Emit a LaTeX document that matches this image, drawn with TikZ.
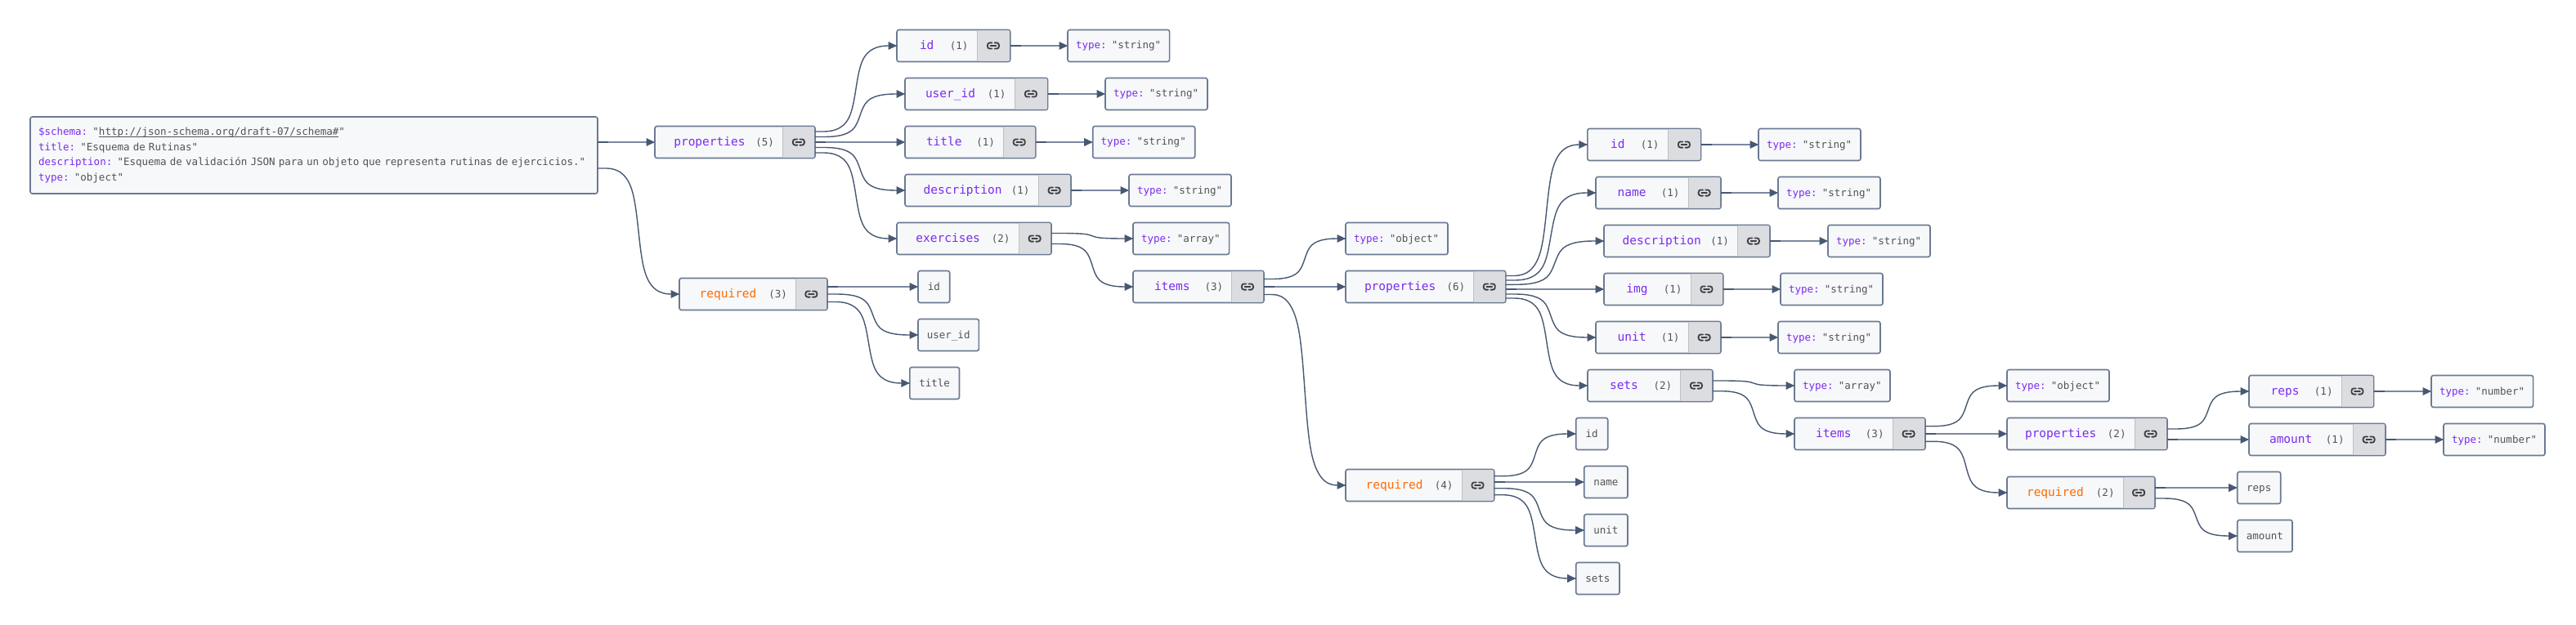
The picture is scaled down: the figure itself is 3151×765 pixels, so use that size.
\documentclass[tikz,border=0pt]{standalone}
\usepackage{fontspec}
\usetikzlibrary{calc}
\newfontfamily\jmono{DejaVu Sans Mono}
\definecolor{keyc}{HTML}{7C2BEF}
\definecolor{reqc}{HTML}{FF6B00}
\definecolor{valc}{HTML}{535353}
\definecolor{fillc}{HTML}{F6F8FA}
\definecolor{borderc}{HTML}{6B7A92}
\definecolor{edgec}{HTML}{475872}
\definecolor{edgelt}{HTML}{7A899F}
\definecolor{btnc}{HTML}{DCDDE0}
\definecolor{iconc}{HTML}{3F3F46}
\tikzset{
  boxst/.style={draw=borderc,fill=fillc,line width=1.6pt,rounded corners=2.5pt,inner sep=0pt,outer sep=0pt,anchor=west,minimum height=39pt},
  btnst/.style={fill=btnc,inner sep=0pt,outer sep=0pt,anchor=east,rounded corners=1pt,minimum height=37.4pt},
  divst/.style={draw=black!25,line width=1pt},
  keyst/.style={font=\jmono\fontsize{14.5}{16}\selectfont,inner sep=0pt,outer sep=0pt,anchor=base west},
  countst/.style={font=\jmono\fontsize{12.5}{14}\selectfont,text=valc,inner sep=0pt,outer sep=0pt,anchor=base east},
  leaftext/.style={font=\jmono\fontsize{12.5}{14}\selectfont,text=valc,text height=10pt,text depth=2pt},
  curvest/.style={draw=edgec,line width=1.4pt},
  linest/.style={draw=edgelt,line width=2pt},
  stubst/.style={draw=edgec,line width=2pt},
  tipst/.style={fill=edgec,draw=none},
  iconst/.style={draw=iconc,line width=1.8pt,line cap=round},
  pics/linkicon/.style={code={
    \draw[iconst,rounded corners=2.8pt] (-1.6,-3.6) -- (-7,-3.6) -- (-7,3.6) -- (-1.6,3.6);
    \draw[iconst,rounded corners=2.8pt] (1.6,-3.6) -- (7,-3.6) -- (7,3.6) -- (1.6,3.6);
    \draw[iconst] (-3.4,0) -- (3.4,0);
  }}
}
% name, x1, x2, divider x, centre y, key x, key, count, key colour
\newcommand\kbox[9]{%
  \pgfmathsetmacro\wa{#3-#2}\pgfmathsetmacro\wb{#3-#4-.8}%
  \node[boxst,minimum width=\wa pt] (#1) at (#2,#5) {};
  \node[btnst,minimum width=\wb pt] (#1-btn) at ($(#1.east)+(-.8,0)$) {};
  \draw[divst] (#1-btn.north west) -- (#1-btn.south west);
  \pic at (#1-btn.center) {linkicon};
  \node[keyst,text=#9] (#1-key) at (#6,{#5+4.3}) {#7};
  \node[countst] (#1-n) at ({#4-10.5},{#5+4.3}) {(#8)};
}
% name, x1, x2, centre y, value
\newcommand\tbox[5]{%
  \pgfmathsetmacro\wa{#3-#2}\pgfmathsetmacro\wb{#3-#2-20}%
  \node[boxst,leaftext,minimum width=\wa pt,text width=\wb pt,align=left] (#1) at (#2,#4) {\mbox{\textcolor{keyc}{type:} #5}};
}
% name, x1, x2, centre y, text
\newcommand\lbox[5]{%
  \pgfmathsetmacro\wa{#3-#2}%
  \node[boxst,leaftext,minimum width=\wa pt] (#1) at (#2,#4) {#5};
}
\newcommand\tipat[1]{\fill[tipst] (#1.west) -- ++(-10.5,-5) -- ++(0,10) -- cycle;}
% curved connector: source, offset from source centre, target
\newcommand\conn[3]{%
  \draw[curvest] let \p1=($(#1.east)+(0,#2)$), \p2=(#3.west) in
    (\x1,\y1) -- ({\x1+(\x2-\x1)/12},\y1)
    .. controls ({\x1+(\x2-\x1)/6},\y1) and ({\x1+(\x2-\x1)/3},\y1) ..
    ({\x1+(\x2-\x1)/12*5},{\y1+(\y2-\y1)/6})
    .. controls ({\x1+(\x2-\x1)/2},{\y1+(\y2-\y1)/3}) and ({\x1+(\x2-\x1)/2},{\y1+(\y2-\y1)/3*2}) ..
    ({\x1+(\x2-\x1)/12*7},{\y1+(\y2-\y1)/6*5})
    .. controls ({\x1+(\x2-\x1)/3*2},\y2) and ({\x1+(\x2-\x1)/6*5},\y2) ..
    ({\x1+(\x2-\x1)/12*11},\y2) -- (\x2,\y2);
  \tipat{#3}
}
% straight connector
\newcommand\sconn[3]{%
  \draw[linest] ($(#1.east)+(0,#2)$) -- (#3.west);
  \draw[stubst] ($(#1.east)+(0,#2)$) -- ($(#1.east)+(13,#2)$);
  \tipat{#3}
}
\newlength\ulen
\newcommand\urlline[1]{\settowidth\ulen{#1}\rlap{\rule[-2.2pt]{\ulen}{.9pt}}#1}
\begin{document}
\begin{tikzpicture}[x=1pt,y=-1pt]
\useasboundingbox (0,0) rectangle (3151,765);
% root
\node[boxst,minimum width=694pt,minimum height=94pt,text width=674pt,align=left,
  font=\jmono\fontsize{12.5}{18.6}\selectfont,text=valc] (root) at (37,190)
 {\textcolor{keyc}{\$schema:} "\urlline{http://json-schema.org/draft-07/schema\#}"\\
  \textcolor{keyc}{title:} "Esquema de Rutinas"\\
  \textcolor{keyc}{description:} "Esquema de validación JSON para un objeto que representa rutinas de ejercicios."\\
  \textcolor{keyc}{type:} "object"};
% first level
\kbox{props}{801}{997}{957.5}{174}{824.3}{properties}{5}{keyc}
\kbox{req}{831}{1012}{973.5}{360}{855.6}{required}{3}{reqc}
\kbox{pid}{1097}{1235.7}{1195}{56}{1125}{id}{1}{keyc}
\tbox{tid}{1306}{1430.6}{56}{"string"}
\kbox{puser}{1107}{1281.6}{1241}{115}{1132}{user\_id}{1}{keyc}
\tbox{tuser}{1352}{1477}{115}{"string"}
\kbox{ptitle}{1107}{1266.8}{1227.5}{174}{1133}{title}{1}{keyc}
\tbox{ttitle}{1336.7}{1461.7}{174}{"string"}
\kbox{pdesc}{1107}{1310}{1270}{233}{1129.6}{description}{1}{keyc}
\tbox{tdesc}{1381}{1506}{233}{"string"}
\kbox{pex}{1097}{1286}{1246}{292}{1120.4}{exercises}{2}{keyc}
\tbox{tex}{1386}{1503.6}{292}{"array"}
\kbox{items}{1386}{1546}{1506.6}{351}{1412}{items}{3}{keyc}
\lbox{rid}{1123}{1161.7}{351}{id}
\lbox{ruser}{1123}{1197.4}{410}{user\_id}
\lbox{rtitle}{1112.8}{1173.5}{469}{title}
% exercise items
\tbox{tobj}{1646}{1771}{292}{"object"}
\kbox{iprops}{1646}{1841.8}{1802.6}{351}{1669}{properties}{6}{keyc}
\kbox{ireq}{1646}{1827.7}{1788}{594}{1670.7}{required}{4}{reqc}
\kbox{eid}{1941.8}{2080.6}{2040}{177}{1970}{id}{1}{keyc}
\tbox{teid}{2151}{2276}{177}{"string"}
\kbox{ename}{1952}{2105}{2065}{236}{1978.6}{name}{1}{keyc}
\tbox{tename}{2175}{2300}{236}{"string"}
\kbox{edesc}{1962}{2165}{2125.5}{295}{1984.7}{description}{1}{keyc}
\tbox{tedesc}{2236}{2361}{295}{"string"}
\kbox{eimg}{1962}{2107.7}{2068}{354}{1989.3}{img}{1}{keyc}
\tbox{teimg}{2178}{2303}{354}{"string"}
\kbox{eunit}{1952}{2105}{2065}{413}{1978.6}{unit}{1}{keyc}
\tbox{teunit}{2175}{2300}{413}{"string"}
\kbox{esets}{1942}{2095}{2055.6}{472}{1969}{sets}{2}{keyc}
\tbox{tesets}{2195}{2312}{472}{"array"}
\kbox{sitems}{2195}{2355}{2315}{531}{2221}{items}{3}{keyc}
\lbox{qid}{1927.7}{1966.7}{531}{id}
\lbox{qname}{1937.7}{1991}{590}{name}
\lbox{qunit}{1937.7}{1991}{649}{unit}
\lbox{qsets}{1927.7}{1981}{708}{sets}
% set items
\tbox{sobj}{2455}{2580}{472}{"object"}
\kbox{sprops}{2455}{2651}{2611}{531}{2477}{properties}{2}{keyc}
\kbox{sreq}{2455}{2636}{2597}{603}{2479}{required}{2}{reqc}
\kbox{sreps}{2751}{2903.6}{2864}{479}{2777.6}{reps}{1}{keyc}
\tbox{tsreps}{2974}{3098.6}{479}{"number"}
\kbox{samount}{2751}{2918}{2878}{538}{2776}{amount}{1}{keyc}
\tbox{tsamount}{2989}{3113}{538}{"number"}
\lbox{xreps}{2736.7}{2789.7}{597}{reps}
\lbox{xamount}{2736.7}{2804}{656}{amount}
% connectors
\sconn{root}{-16}{props}
\conn{root}{16}{req}
\conn{props}{-13}{pid}
\conn{props}{-6.5}{puser}
\sconn{props}{0}{ptitle}
\conn{props}{6.5}{pdesc}
\conn{props}{13}{pex}
\sconn{pid}{0}{tid}
\sconn{puser}{0}{tuser}
\sconn{ptitle}{0}{ttitle}
\sconn{pdesc}{0}{tdesc}
\conn{pex}{-6.5}{tex}
\conn{pex}{6.5}{items}
\sconn{req}{-9}{rid}
\conn{req}{0}{ruser}
\conn{req}{9.5}{rtitle}
\conn{items}{-9.5}{tobj}
\sconn{items}{0}{iprops}
\conn{items}{9.5}{ireq}
\conn{iprops}{-13.5}{eid}
\conn{iprops}{-8}{ename}
\conn{iprops}{-2.7}{edesc}
\sconn{iprops}{3}{eimg}
\conn{iprops}{9}{eunit}
\conn{iprops}{14}{esets}
\sconn{eid}{0}{teid}
\sconn{ename}{0}{tename}
\sconn{edesc}{0}{tedesc}
\sconn{eimg}{0}{teimg}
\sconn{eunit}{0}{teunit}
\conn{esets}{-6}{tesets}
\conn{esets}{6.7}{sitems}
\conn{ireq}{-11.3}{qid}
\sconn{ireq}{-4}{qname}
\conn{ireq}{3.7}{qunit}
\conn{ireq}{11.7}{qsets}
\conn{sitems}{-9.3}{sobj}
\sconn{sitems}{0}{sprops}
\conn{sitems}{9.3}{sreq}
\conn{sprops}{-6}{sreps}
\sconn{sprops}{7}{samount}
\sconn{sreps}{0}{tsreps}
\sconn{samount}{0}{tsamount}
\sconn{sreq}{-6}{xreps}
\conn{sreq}{7}{xamount}
\end{tikzpicture}
\end{document}
